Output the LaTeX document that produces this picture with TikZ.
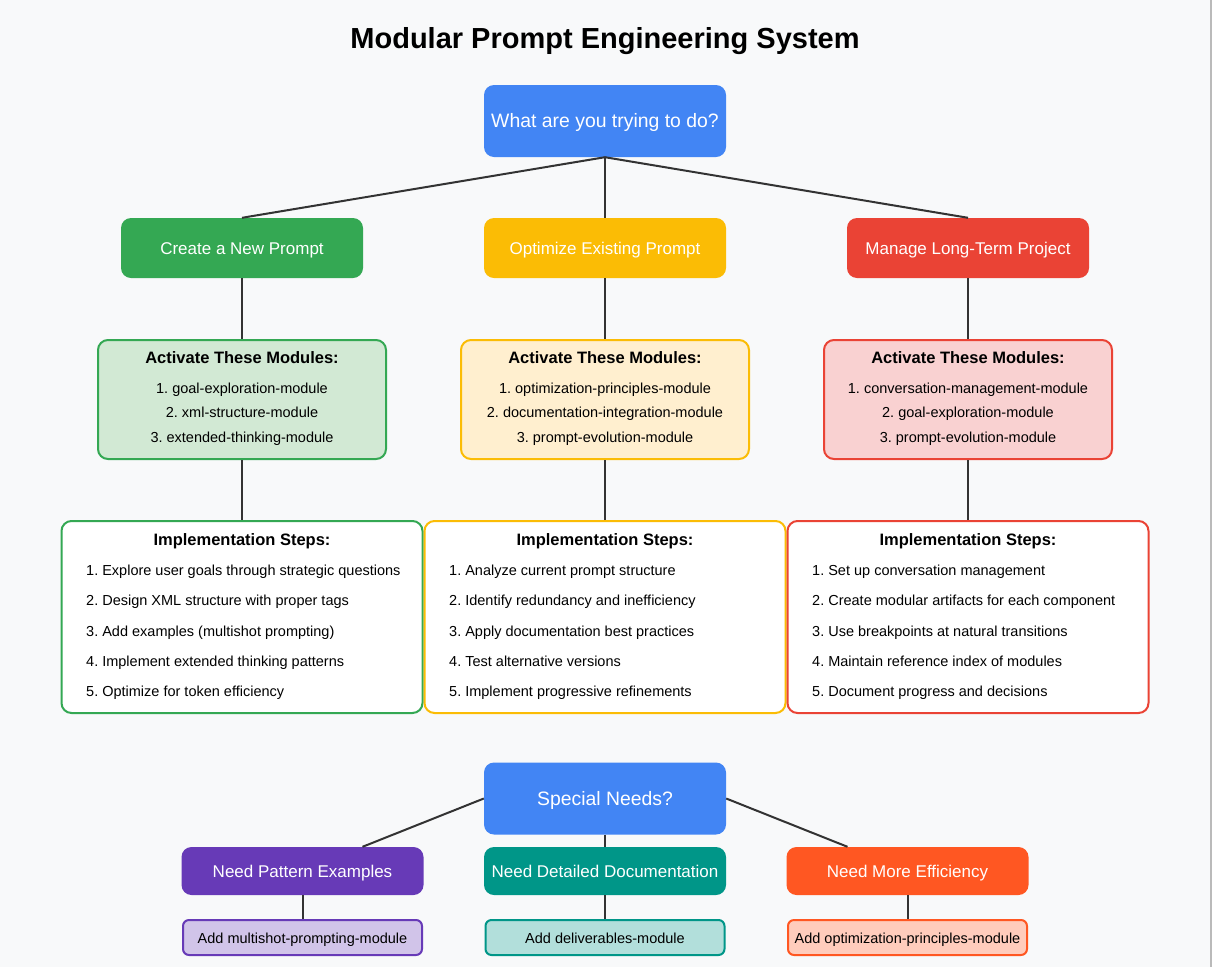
\documentclass[tikz,border=0pt]{standalone}
\usepackage{fontspec}
\setmainfont{Liberation Sans}
\usepackage{xcolor}
\definecolor{bgcol}{HTML}{F8F9FA}
\definecolor{lcol}{HTML}{333333}
\definecolor{gblue}{HTML}{4285F4}
\definecolor{ggreen}{HTML}{34A853}
\definecolor{gyellow}{HTML}{FBBC05}
\definecolor{gred}{HTML}{EA4335}
\definecolor{lgreen}{HTML}{D2E9D4}
\definecolor{lyellow}{HTML}{FFEFCF}
\definecolor{lred}{HTML}{F9D1D1}
\definecolor{gpurple}{HTML}{673AB7}
\definecolor{lpurple}{HTML}{D1C4E9}
\definecolor{gteal}{HTML}{009688}
\definecolor{lteal}{HTML}{B2DFDB}
\definecolor{gorange}{HTML}{FF5722}
\definecolor{lorange}{HTML}{FFCCBC}
\frenchspacing

\begin{document}
\begin{tikzpicture}[x=1pt,y=-1pt,
  qbox/.style={rectangle, rounded corners=10pt, fill=gblue, text=white, minimum width=242pt, minimum height=72pt, inner sep=0pt, text height=17pt, text depth=4pt, font=\fontsize{19.4}{23}\selectfont},
  pathbox/.style={rectangle, rounded corners=10pt, text=white, minimum width=242pt, minimum height=60pt, inner sep=0pt, text height=16.5pt, text depth=3.5pt, font=\fontsize{17}{20}\selectfont},
  modbox/.style={rectangle, rounded corners=10pt, draw, line width=2pt, minimum width=288pt, minimum height=119pt},
  stepbox/.style={rectangle, rounded corners=10pt, draw, fill=white, line width=2pt, minimum width=361pt, minimum height=192pt},
  needbox/.style={rectangle, rounded corners=10pt, text=white, minimum width=242pt, minimum height=48pt, inner sep=0pt, text height=16.5pt, text depth=3.5pt, font=\fontsize{17}{20}\selectfont},
  addbox/.style={rectangle, rounded corners=6pt, draw, line width=2pt, minimum width=239pt, minimum height=35pt, inner sep=0pt, text height=14.5pt, text depth=3pt, font=\fontsize{14.5}{17}\selectfont},
  head/.style={inner sep=0pt, text height=16pt, text depth=3pt, font=\fontsize{16.5}{19}\selectfont\bfseries},
  item/.style={inner sep=0pt, text height=15.5pt, text depth=3pt, font=\fontsize{14.5}{17}\selectfont},
  link/.style={draw=lcol, line width=2pt}]
\fill[bgcol] (0,0) rectangle (1212,967);
\fill[black!27] (1210,0) rectangle (1212,967);
\node[inner sep=0pt, text height=26pt, text depth=6pt, font=\fontsize{29}{34}\selectfont\bfseries] (title) at (605,38) {Modular Prompt Engineering System};

\node[qbox] (goal) at (605,121) {What are you trying to do?};
\node[pathbox, fill=ggreen] (new) at (242,248) {Create a New Prompt};
\node[pathbox, fill=gyellow] (opt) at (605,248) {Optimize Existing Prompt};
\node[pathbox, fill=gred] (proj) at (968,248) {Manage Long-Term Project};

\node[modbox, draw=ggreen, fill=lgreen] (newmod) at (242,399.5) {};
\node[modbox, draw=gyellow, fill=lyellow] (optmod) at (605,399.5) {};
\node[modbox, draw=gred, fill=lred] (projmod) at (968,399.5) {};

\node[stepbox, draw=ggreen] (newstep) at (242,617) {};
\node[stepbox, draw=gyellow] (optstep) at (605,617) {};
\node[stepbox, draw=gred] (projstep) at (968,617) {};

\draw[link] (goal.south) -- (new.north);
\draw[link] (goal.south) -- (opt.north);
\draw[link] (goal.south) -- (proj.north);
\draw[link] (new.south) -- (newmod.north);
\draw[link] (opt.south) -- (optmod.north);
\draw[link] (proj.south) -- (projmod.north);
\draw[link] (newmod.south) -- (newstep.north);
\draw[link] (optmod.south) -- (optstep.north);
\draw[link] (projmod.south) -- (projstep.north);

% modules
\node[head] (newhead) at (242,357) {Activate These Modules:};
\node[head] (opthead) at (605,357) {Activate These Modules:};
\node[head] (projhead) at (968,357) {Activate These Modules:};
\foreach \t [count=\i] in {1. goal-exploration-module, 2. xml-structure-module, 3. extended-thinking-module}
  \node[item] (newm\i) at (242,362.5+24.5*\i) {\t};
\foreach \t [count=\i] in {1. optimization-principles-module, 2. documentation-integration-module, 3. prompt-evolution-module}
  \node[item] (optm\i) at (605,362.5+24.5*\i) {\t};
\foreach \t [count=\i] in {1. conversation-management-module, 2. goal-exploration-module, 3. prompt-evolution-module}
  \node[item] (projm\i) at (968,362.5+24.5*\i) {\t};

% steps
\node[head] (newshead) at (242,539) {Implementation Steps:};
\node[head] (optshead) at (605,539) {Implementation Steps:};
\node[head] (projshead) at (968,539) {Implementation Steps:};
\foreach \t [count=\i] in {{1. Explore user goals through strategic questions}, {2. Design XML structure with proper tags}, {3. Add examples (multishot prompting)}, {4. Implement extended thinking patterns}, {5. Optimize for token efficiency}}
  \node[item, anchor=west] (news\i) at (86,539+30.25*\i) {\t};
\foreach \t [count=\i] in {{1. Analyze current prompt structure}, {2. Identify redundancy and inefficiency}, {3. Apply documentation best practices}, {4. Test alternative versions}, {5. Implement progressive refinements}}
  \node[item, anchor=west] (opts\i) at (449,539+30.25*\i) {\t};
\foreach \t [count=\i] in {{1. Set up conversation management}, {2. Create modular artifacts for each component}, {3. Use breakpoints at natural transitions}, {4. Maintain reference index of modules}, {5. Document progress and decisions}}
  \node[item, anchor=west] (projs\i) at (812,539+30.25*\i) {\t};

% special needs
\node[qbox] (special) at (605,798.5) {Special Needs?};
\node[needbox, fill=gpurple] (pat) at (302.5,871) {Need Pattern Examples};
\node[needbox, fill=gteal] (doc) at (605,871) {Need Detailed Documentation};
\node[needbox, fill=gorange] (eff) at (907.5,871) {Need More Efficiency};
\node[addbox, draw=gpurple, fill=lpurple] (patadd) at (302.5,937.5) {Add multishot-prompting-module};
\node[addbox, draw=gteal, fill=lteal] (docadd) at (605,937.5) {Add deliverables-module};
\node[addbox, draw=gorange, fill=lorange] (effadd) at (907.5,937.5) {Add optimization-principles-module};

\draw[link] (special.west) -- ([xshift=60pt]pat.north);
\draw[link] (special.south) -- (doc.north);
\draw[link] (special.east) -- ([xshift=-60pt]eff.north);
\draw[link] (pat.south) -- (patadd.north);
\draw[link] (doc.south) -- (docadd.north);
\draw[link] (eff.south) -- (effadd.north);
%\draw[link] (title.south) -- (goal.north);
\end{tikzpicture}
\end{document}
